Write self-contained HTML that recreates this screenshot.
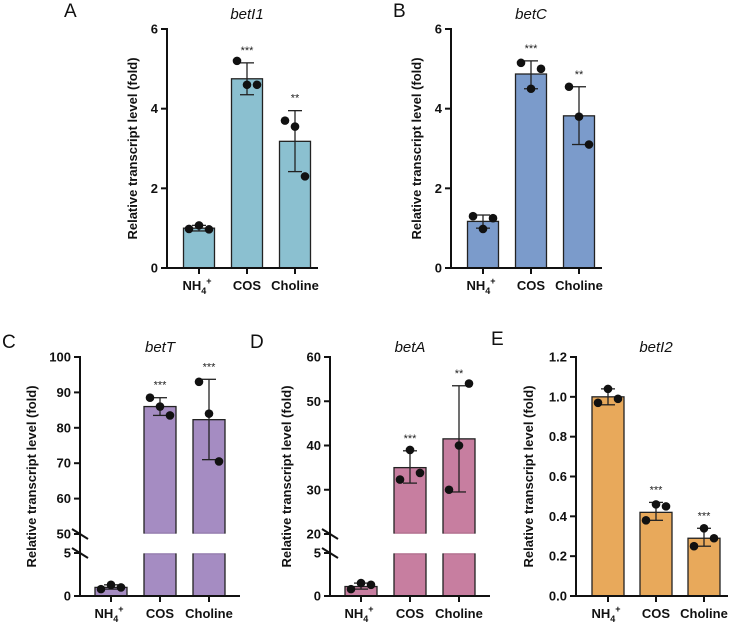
<!DOCTYPE html>
<html><head><meta charset="utf-8"><style>
body{margin:0;background:#fff;}
svg{display:block;font-family:"Liberation Sans",Arial,sans-serif;}
</style></head><body>
<svg id="fig" width="737" height="625" viewBox="0 0 737 625"></svg>
<script>
const categories = ["NH4", "COS", "Choline"];
// Panel A betI1
const meansA = [1.0, 4.75, 3.18];
const pointsA = [[0.98,1.07,0.97],[5.2,4.6,4.6],[3.7,3.55,2.3]];
const errLoA = [0.93, 4.35, 2.42];
const errHiA = [1.07, 5.15, 3.95];
const starsA = ["", "***", "**"];
const ticksA = [0,2,4,6];
// Panel B betC
const meansB = [1.17, 4.87, 3.82];
const pointsB = [[1.3,0.98,1.25],[5.15,4.5,5.0],[4.55,3.8,3.1]];
const errLoB = [1.0, 4.5, 3.1];
const errHiB = [1.33, 5.2, 4.55];
const starsB = ["", "***", "**"];
const ticksB = [0,2,4,6];
// Panel C betT
const meansC = [1.0, 86, 82.3];
const pointsC = [[0.8,1.3,1.0],[88.5,86,83.5],[93,84,70.5]];
const errLoC = [0.8, 83.5, 71];
const errHiC = [1.3, 88.5, 93.7];
const starsC = ["", "***", "***"];
const ticksCLow = [0,5];
const ticksCHigh = [50,60,70,80,90,100];
// Panel D betA
const meansD = [1.1, 35, 41.5];
const pointsD = [[0.8,1.5,1.3],[32.3,39,33.8],[30,40,54]];
const errLoD = [0.8, 31.5, 29.5];
const errHiD = [1.5, 38.8, 53.5];
const starsD = ["", "***", "**"];
const ticksDLow = [0,5];
const ticksDHigh = [20,30,40,50,60];
// Panel E betI2
const meansE = [1.0, 0.42, 0.29];
const pointsE = [[0.97,1.04,0.99],[0.38,0.46,0.45],[0.25,0.34,0.29]];
const errLoE = [0.96, 0.38, 0.25];
const errHiE = [1.04, 0.47, 0.34];
const starsE = ["", "***", "***"];
const ticksE = [0,0.2,0.4,0.6,0.8,1.0,1.2];

const svg = document.getElementById('fig');
const NS = "http://www.w3.org/2000/svg";
function mk(tag, attrs, parent){
  const e = document.createElementNS(NS, tag);
  for (const k in attrs) e.setAttribute(k, attrs[k]);
  (parent||svg).appendChild(e);
  return e;
}

function panel(cfg){
  const g = mk('g', {});
  
  
  const y = cfg.y; // scale function
  // bars
  cfg.means.forEach((m, i) => {
    const cx = cfg.cx0 + i * cfg.step;
    const bw = cfg.bw;
    if (cfg.broken && m > cfg.lowMax) {
      const lowTop = y(cfg.lowMax) + 1;
      const b1 = mk('rect', {x: cx-bw/2, y: lowTop, width: bw, height: cfg.y0 - lowTop, fill: cfg.color, stroke: '#222', 'stroke-width': 1.3}, g);
      
      
      // hide top stroke of lower part
      mk('line', {x1: cx-bw/2+0.7, x2: cx+bw/2-0.7, y1: lowTop, y2: lowTop, stroke: cfg.color, 'stroke-width': 1.5}, g);
      const top = y(m);
      const bot = y(cfg.highMin) - 1;
      const b2 = mk('rect', {x: cx-bw/2, y: top, width: bw, height: bot - top, fill: cfg.color, stroke: '#222', 'stroke-width': 1.3}, g);
      
      
      mk('line', {x1: cx-bw/2+0.7, x2: cx+bw/2-0.7, y1: bot, y2: bot, stroke: cfg.color, 'stroke-width': 1.5}, g);
    } else {
      const top = y(m);
      const b = mk('rect', {x: cx-bw/2, y: top, width: bw, height: cfg.y0 - top, fill: cfg.color, stroke: '#222', 'stroke-width': 1.3}, g);
      
      
    }
    // error bar
    const lo = y(cfg.errLo[i]), hi = y(cfg.errHi[i]);
    const eb = mk('g', {}, g);
    
    
    mk('line', {x1: cx, x2: cx, y1: lo, y2: hi, stroke: '#222', 'stroke-width': 1.3}, eb);
    mk('line', {x1: cx-7, x2: cx+7, y1: lo, y2: lo, stroke: '#222', 'stroke-width': 1.3}, eb);
    mk('line', {x1: cx-7, x2: cx+7, y1: hi, y2: hi, stroke: '#222', 'stroke-width': 1.3}, eb);
    // points
    cfg.points[i].forEach((p, j) => {
      const c = mk('circle', {cx: cx + (j-1)*10, cy: y(p), r: 4.3, fill: '#111'}, g);
      
      
    });
    if (cfg.stars[i]) {
      const t = mk('text', {x: cx, y: hi - 9, 'font-size': 11, 'text-anchor': 'middle', fill: '#222'}, g);
      t.textContent = cfg.stars[i];
      
      
    }
    // x tick + label
    mk('line', {x1: cx, x2: cx, y1: cfg.y0, y2: cfg.y0+6, stroke: '#111', 'stroke-width': 2}, g);
    const xl = mk('text', {x: cx, y: cfg.y0 + 22, 'font-size': 13, 'font-weight': 'bold', 'text-anchor': 'middle', fill: '#111'}, g);
    
    
    if (categories[i] === 'NH4') {
      xl.innerHTML = 'NH<tspan font-size="9" dy="4">4</tspan><tspan font-size="9" dy="-10">+</tspan>';
      xl.setAttribute('x', cx - 2);
    } else xl.textContent = categories[i];
  });
  // axes
  const ax = cfg.ax;
  const yAx = mk('line', {x1: ax, x2: ax, y1: cfg.yTop - 1, y2: cfg.y0 + 1, stroke: '#111', 'stroke-width': 2}, g);
  
  
  const xAx = mk('line', {x1: ax - 1, x2: cfg.axEnd, y1: cfg.y0, y2: cfg.y0, stroke: '#111', 'stroke-width': 2}, g);
  
  
  cfg.ticks.forEach(v => {
    const ty = y(v);
    mk('line', {x1: ax-6, x2: ax, y1: ty, y2: ty, stroke: '#111', 'stroke-width': 2}, g);
    const t = mk('text', {x: ax - 9, y: ty + 4.5, 'font-size': 13, 'font-weight': 'bold', 'text-anchor': 'end', fill: '#111'}, g);
    t.textContent = cfg.fmt ? cfg.fmt(v) : v;
    
    
  });
  if (cfg.broken) {
    [y(cfg.lowMax), y(cfg.highMin)].forEach(by => {
      mk('line', {x1: ax-8, x2: ax+8, y1: by-5, y2: by+5, stroke: '#111', 'stroke-width': 2}, g);
    });
  }
  const yt = mk('text', {x: 0, y: 0, 'font-size': 13, 'font-weight': 'bold', 'text-anchor': 'middle', fill: '#111', transform: `translate(${cfg.ytx},${(cfg.yTop+cfg.y0)/2}) rotate(-90)`}, g);
  yt.textContent = 'Relative transcript level (fold)';
  
  
  const title = mk('text', {x: cfg.cx0 + cfg.step, y: cfg.titleY, 'font-size': 15, 'font-style': 'italic', 'text-anchor': 'middle', fill: '#111'}, g);
  title.textContent = cfg.title;
  
  
  const lt = mk('text', {x: cfg.lx, y: cfg.ly, 'font-size': 19, fill: '#111'}, g);
  lt.textContent = cfg.id;
  
  
}

function lin(d0, d1, p0, p1){ return v => p0 + (v - d0) * (p1 - p0) / (d1 - d0); }
function brokenScale(lowMax, highMin, highMax){
  const lo = lin(0, lowMax, 596, 553), hi = lin(highMin, highMax, 534, 357);
  return v => v <= lowMax ? lo(v) : hi(v);
}

panel({id:'A', title:'betI1', color:'#8bc0d0', means:meansA, points:pointsA, errLo:errLoA, errHi:errHiA, stars:starsA, ticks:ticksA,
  y: lin(0, 6, 268, 29), y0:268, yTop:29, ax:167, axEnd:318, cx0:199, step:48, bw:31, ytx:137, titleY:19, lx:64, ly:17});
panel({id:'B', title:'betC', color:'#7b9bcb', means:meansB, points:pointsB, errLo:errLoB, errHi:errHiB, stars:starsB, ticks:ticksB,
  y: lin(0, 6, 268, 29), y0:268, yTop:29, ax:451, axEnd:602, cx0:483, step:48, bw:31, ytx:421, titleY:19, lx:393, ly:17});
panel({id:'C', title:'betT', color:'#a58cc2', means:meansC, points:pointsC, errLo:errLoC, errHi:errHiC, stars:starsC,
  ticks: ticksCLow.concat(ticksCHigh), broken:true, lowMax:5, highMin:50,
  y: brokenScale(5, 50, 100), y0:596, yTop:357, ax:80, axEnd:240, cx0:111, step:49, bw:32, ytx:36, titleY:352, lx:2, ly:348});
panel({id:'D', title:'betA', color:'#c77ea0', means:meansD, points:pointsD, errLo:errLoD, errHi:errHiD, stars:starsD,
  ticks: ticksDLow.concat(ticksDHigh), broken:true, lowMax:5, highMin:20,
  y: brokenScale(5, 20, 60), y0:596, yTop:357, ax:330, axEnd:490, cx0:361, step:49, bw:32, ytx:291, titleY:352, lx:250, ly:348});
panel({id:'E', title:'betI2', color:'#e8a95b', means:meansE, points:pointsE, errLo:errLoE, errHi:errHiE, stars:starsE,
  ticks: ticksE, fmt: v => v.toFixed(1),
  y: lin(0, 1.2, 596, 357), y0:596, yTop:357, ax:576, axEnd:728, cx0:608, step:48, bw:32, ytx:533, titleY:352, lx:491, ly:345});
</script>
</body></html>
